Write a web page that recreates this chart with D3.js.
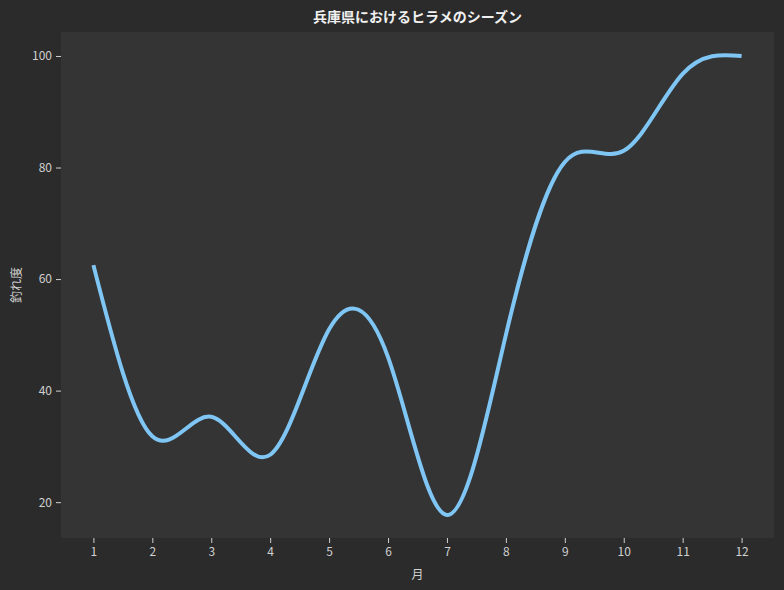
<!DOCTYPE html>
<html><head><meta charset="utf-8">
<script src="https://cdn.jsdelivr.net/npm/d3@7"></script>
<style>body{margin:0;background:#2b2b2b;}svg{display:block;}</style>
</head><body>
<svg id="c" width="784" height="590"></svg>
<script>
const months = [1,2,3,4,5,6,7,8,9,10,11,12];
const catchRate = [62.5, 31.8, 35.3, 28.5, 51, 46, 17.7, 50, 81, 83, 96.8, 100];
const yTicks = [20, 40, 60, 80, 100];
const title = "兵庫県におけるヒラメのシーズン";
const xLabel = "月";
const yLabel = "釣れ度";

// natural cubic spline samples (used only to find the curve's extent for the y domain)
function naturalSpline(xs, ys, samples) {
  const n = xs.length;
  const A = [], b = [];
  for (let i = 0; i < n; i++) { A.push(new Array(n).fill(0)); b.push(0); }
  A[0][0] = 1;
  for (let i = 1; i < n - 1; i++) {
    A[i][i-1] = 1; A[i][i] = 4; A[i][i+1] = 1;
    b[i] = 6 * (ys[i-1] - 2*ys[i] + ys[i+1]);
  }
  A[n-1][n-1] = 1;
  for (let c = 0; c < n; c++) {
    for (let r = 0; r < n; r++) {
      if (r === c) continue;
      const f = A[r][c] / A[c][c];
      if (!f) continue;
      for (let k = 0; k < n; k++) A[r][k] -= f * A[c][k];
      b[r] -= f * b[c];
    }
  }
  const M = b.map((v, i) => v / A[i][i]);
  const out = [];
  const x0 = xs[0], x1 = xs[n-1];
  for (let s = 0; s < samples; s++) {
    const x = x0 + (x1 - x0) * s / (samples - 1);
    let i = Math.min(Math.floor(x - x0), n - 2);
    const t = x - xs[i], u = 1 - t;
    out.push([x, u*ys[i] + t*ys[i+1] + (u*u*u - u)*M[i]/6 + (t*t*t - t)*M[i+1]/6]);
  }
  return out;
}

const W = 784, H = 590;
const m = {l: 61, r: 10, t: 32, b: 52};
const svg = d3.select("#c");
svg.append("rect").attr("width", W).attr("height", H).attr("fill", "#2b2b2b");

const data = months.map((mo, i) => [mo, catchRate[i]]);
const pts = naturalSpline(months, catchRate, 400);
const ymin = d3.min(pts, d => d[1]), ymax = d3.max(pts, d => d[1]);
const ypad = (ymax - ymin) * 0.05;
const xpad = (months[months.length-1] - months[0]) * 0.05;

const x = d3.scaleLinear().domain([months[0] - xpad, months[months.length-1] + xpad]).range([m.l, W - m.r]);
const y = d3.scaleLinear().domain([ymin - ypad, ymax + ypad]).range([H - m.b, m.t]);

svg.append("rect").attr("x", m.l).attr("y", m.t)
  .attr("width", W - m.r - m.l).attr("height", H - m.b - m.t).attr("fill", "#343434");

const font = "'Noto Sans CJK JP', 'Noto Sans', sans-serif";

const xa = svg.append("g").attr("transform", `translate(0,${H - m.b})`)
  .call(d3.axisBottom(x).tickValues(months).tickSize(5).tickPadding(4).tickFormat(d3.format("d")));
const ya = svg.append("g").attr("transform", `translate(${m.l},0)`)
  .call(d3.axisLeft(y).tickValues(yTicks).tickSize(5).tickPadding(4));
[xa, ya].forEach(g => {
  g.select(".domain").remove();
  g.selectAll("line").attr("stroke", "#d0d0d0").attr("stroke-width", 1);
  g.selectAll("text").attr("fill", "#d0d0d0").style("font-family", font).style("font-size", "12px");
});

svg.append("path").datum(data)
  .attr("d", d3.line().x(d => x(d[0])).y(d => y(d[1])).curve(d3.curveNatural))
  .attr("fill", "none").attr("stroke", "#7fc6f5").attr("stroke-width", 4)
  .attr("stroke-linecap", "butt").attr("stroke-linejoin", "round");

svg.append("text").attr("x", (m.l + W - m.r) / 2).attr("y", 22)
  .attr("text-anchor", "middle").attr("fill", "#f0f0f0")
  .style("font-family", font).style("font-size", "14px").style("font-weight", "bold").text(title);
svg.append("text").attr("x", (m.l + W - m.r) / 2).attr("y", 579)
  .attr("text-anchor", "middle").attr("fill", "#d0d0d0")
  .style("font-family", font).style("font-size", "12px").text(xLabel);
svg.append("text").attr("transform", `translate(21,${(m.t + H - m.b) / 2}) rotate(-90)`)
  .attr("text-anchor", "middle").attr("fill", "#d0d0d0")
  .style("font-family", font).style("font-size", "12px").text(yLabel);
</script>
</body></html>
